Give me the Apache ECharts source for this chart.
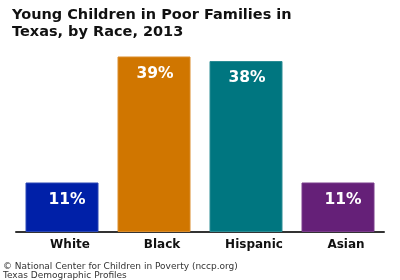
<!DOCTYPE html>
<html>
<head>
<meta charset="utf-8">
<script src="https://cdn.jsdelivr.net/npm/echarts@6/dist/echarts.min.js"></script>
<style>
  html, body { margin: 0; padding: 0; background: #fff; }
  #chart { width: 400px; height: 280px; }
</style>
</head>
<body>
<div id="chart"></div>
<script>
// chart data
var races = ["White", "Black", "Hispanic", "Asian"];
var percents = [11, 39, 38, 11];
var barColors = ["#0020a8", "#d07600", "#007680", "#652078"];
var borderColors = ["#2a47b5", "#db8c2a", "#2a8c94", "#7a3d8b"];

var chart = echarts.init(document.getElementById("chart"));

var option = {
  animation: false,
  title: [
    {
      text: "Young Children in Poor Families in\nTexas, by Race, 2013",
      left: 12,
      top: 7,
      padding: 0,
      textStyle: {
        fontFamily: "DejaVu Sans",
        fontSize: 14.5,
        fontWeight: "bold",
        lineHeight: 16.5,
        color: "#111"
      }
    },
    {
      text: "© National Center for Children in Poverty (nccp.org)\nTexas Demographic Profiles",
      left: 3,
      top: 262,
      padding: 0,
      textStyle: {
        fontFamily: "DejaVu Sans",
        fontSize: 9,
        fontWeight: "normal",
        lineHeight: 9,
        color: "#333"
      }
    }
  ],
  grid: {
    left: 16,
    right: 16,
    top: 52,
    bottom: 48,
    containLabel: false
  },
  xAxis: {
    type: "category",
    data: races,
    axisTick: { show: false },
    axisLine: { lineStyle: { color: "#333", width: 2 } },
    axisLabel: {
      margin: 7,
      fontFamily: "DejaVu Sans",
      fontSize: 12,
      fontWeight: "bold",
      color: "#111",
      padding: [0, 0, 0, 16]
    }
  },
  yAxis: {
    type: "value",
    min: 0,
    max: 40,
    show: false,
    splitLine: { show: false }
  },
  series: [
    {
      type: "bar",
      barWidth: 73,
      data: percents.map(function (v, i) {
        return {
          value: v,
          itemStyle: {
            color: barColors[i],
            borderColor: borderColors[i],
            borderWidth: 1
          },
          label: { offset: [v < 20 ? 5 : 1, 0] }
        };
      }),
      label: {
        show: true,
        position: "insideTop",
        distance: 9,
        formatter: "{c}%",
        fontFamily: "DejaVu Sans",
        fontSize: 15.5,
        fontWeight: "bold",
        color: "#fff"
      }
    }
  ]
};

chart.setOption(option);
</script>
</body>
</html>
